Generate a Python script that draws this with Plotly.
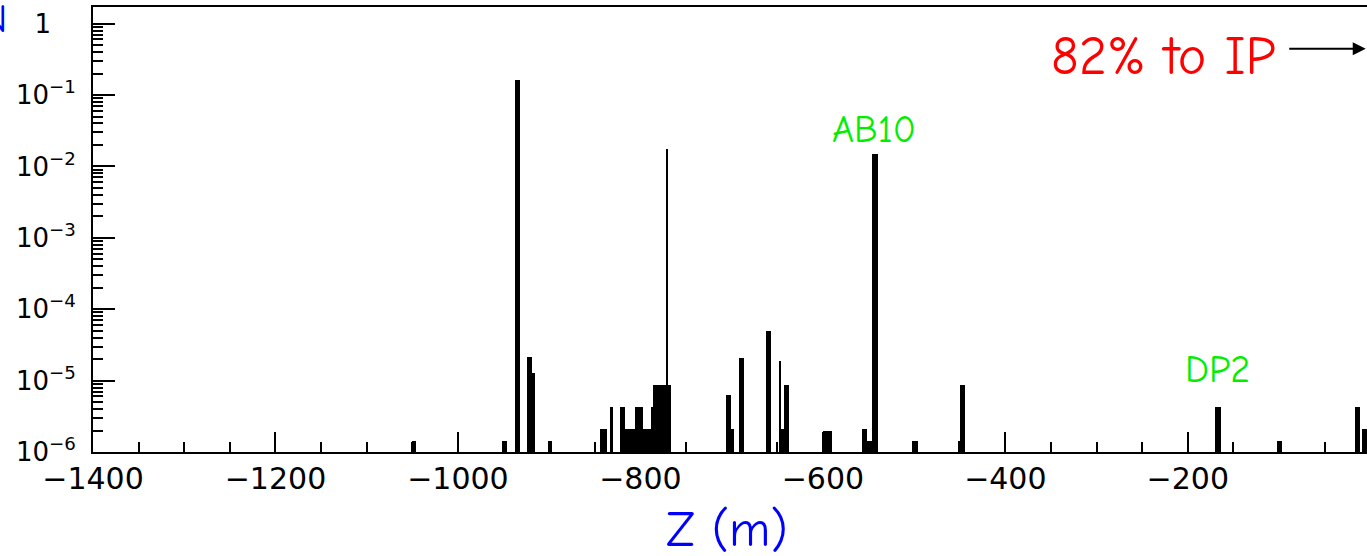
import plotly.graph_objects as go

# ---- data: histogram bins (left edge, right edge in Z [m]) and contents ----
bin_lo = [-1050.0, -951.6, -937.0, -924.2, -918.7, -901.2,
          -843.8, -832.9, -821.9, -816.4, -805.5, -797.3, -788.7, -786.1, -772.3,
          -705.7, -700.6, -692.3, -661.9, -648.0, -646.6, -643.0,
          -600.0, -557.1, -551.6, -546.1, -502.2, -452.3, -449.3,
          -169.9, -102.0, -16.4, -9.1]
bin_hi = [-1045.5, -946.1, -932.3, -918.7, -915.8, -896.8,
          -836.5, -829.9, -816.4, -805.5, -797.3, -788.7, -786.1, -766.6, -769.7,
          -700.6, -697.8, -686.8, -656.4, -645.5, -643.0, -637.1,
          -589.9, -551.6, -546.1, -539.9, -496.1, -447.5, -443.8,
          -163.6, -96.5, -11.3, -3.6]
counts = [1.43e-6, 1.43e-6, 0.16, 2.15e-5, 1.28e-5, 1.43e-6,
          2.08e-6, 4.3e-6, 4.3e-6, 2.08e-6, 4.3e-6, 2.08e-6, 4.3e-6, 8.7e-6, 0.0176,
          6.2e-6, 2.08e-6, 2.1e-5, 4.9e-5, 1.87e-5, 2.08e-6, 8.6e-6,
          2.0e-6, 2.08e-6, 1.43e-6, 0.0148, 1.43e-6, 1.43e-6, 8.6e-6,
          4.3e-6, 1.43e-6, 4.3e-6, 2.1e-6]

x_range = [-1400, -3.6]
y_log_range = [-6, 0.233]
y_tickvals = [1e-6, 1e-5, 1e-4, 1e-3, 1e-2, 1e-1, 1]
y_ticktext = ["10<sup>\u22126</sup>", "10<sup>\u22125</sup>", "10<sup>\u22124</sup>",
              "10<sup>\u22123</sup>", "10<sup>\u22122</sup>", "10<sup>\u22121</sup>",
              "1\u2007\u2008"]

centers = [(a + b) / 2 for a, b in zip(bin_lo, bin_hi)]
widths = [b - a for a, b in zip(bin_lo, bin_hi)]

fig = go.Figure()
fig.add_trace(go.Bar(
    x=centers, y=counts, width=widths,
    marker=dict(color="black", line=dict(width=0)),
    showlegend=False, cliponaxis=True,
))

comic = "Comic Sans MS, Comic Neue, Noto Sans, sans-serif"

fig.update_layout(
    width=1367, height=556,
    margin=dict(l=93, r=0, t=7, b=104, autoexpand=False),
    paper_bgcolor="white", plot_bgcolor="white",
    barmode="overlay", bargap=0,
    xaxis=dict(
        range=x_range, showgrid=False, zeroline=False, automargin=False,
        showline=True, mirror=True, linecolor="black", linewidth=2,
        tickmode="linear", tick0=-1400, dtick=200,
        ticks="inside", ticklen=20, tickwidth=2, tickcolor="black",
        minor=dict(tickmode="linear", tick0=-1400, dtick=50, ticks="inside",
                   ticklen=10, tickwidth=2, tickcolor="black"),
        tickfont=dict(family="DejaVu Sans", size=30, color="black"),
        ticklabelstandoff=-1,
    ),
    yaxis=dict(
        type="log", range=y_log_range, showgrid=False, zeroline=False,
        automargin=False,
        showline=True, mirror=True, linecolor="black", linewidth=2,
        tickmode="array", tickvals=y_tickvals, ticktext=y_ticktext,
        ticks="inside", ticklen=22, tickwidth=2, tickcolor="black",
        minor=dict(dtick="D1", ticks="inside", ticklen=10, tickwidth=2,
                   tickcolor="black"),
        tickfont=dict(family="DejaVu Sans", size=26, color="black"),
        ticklabelstandoff=10,
    ),
    annotations=[
        dict(text="Z (m)", xref="paper", yref="paper", x=0.498, y=-0.176,
             xanchor="center", yanchor="middle", showarrow=False,
             font=dict(family=comic, size=50, color="#0000ff")),
        dict(text="82% to IP", xref="paper", yref="paper", x=0.930, y=0.888,
             xanchor="right", yanchor="middle", showarrow=False,
             font=dict(family=comic, size=54, color="#ff0000")),
        dict(text="", xref="paper", yref="paper", x=0.999, y=0.906,
             ax=-78, ay=0, showarrow=True, arrowhead=2, arrowsize=1.3,
             arrowwidth=2, arrowcolor="black", standoff=0),
        dict(text="AB10", xref="paper", yref="paper", x=0.613, y=0.724,
             xanchor="center", yanchor="middle", showarrow=False,
             font=dict(family=comic, size=38, color="#00ee00")),
        dict(text="DP2", xref="paper", yref="paper", x=0.883, y=0.184,
             xanchor="center", yanchor="middle", showarrow=False,
             font=dict(family=comic, size=38, color="#00ee00")),
        dict(text="N", xref="paper", yref="paper", x=-0.066, y=1.03,
             xanchor="right", yanchor="top", showarrow=False,
             font=dict(family=comic, size=40, color="#0000ff")),
    ],
)

fig.write_html(
    "out.html",
    config={"displayModeBar": False},
    post_script="document.body.style.margin='0';document.body.style.overflow='hidden';",
)
